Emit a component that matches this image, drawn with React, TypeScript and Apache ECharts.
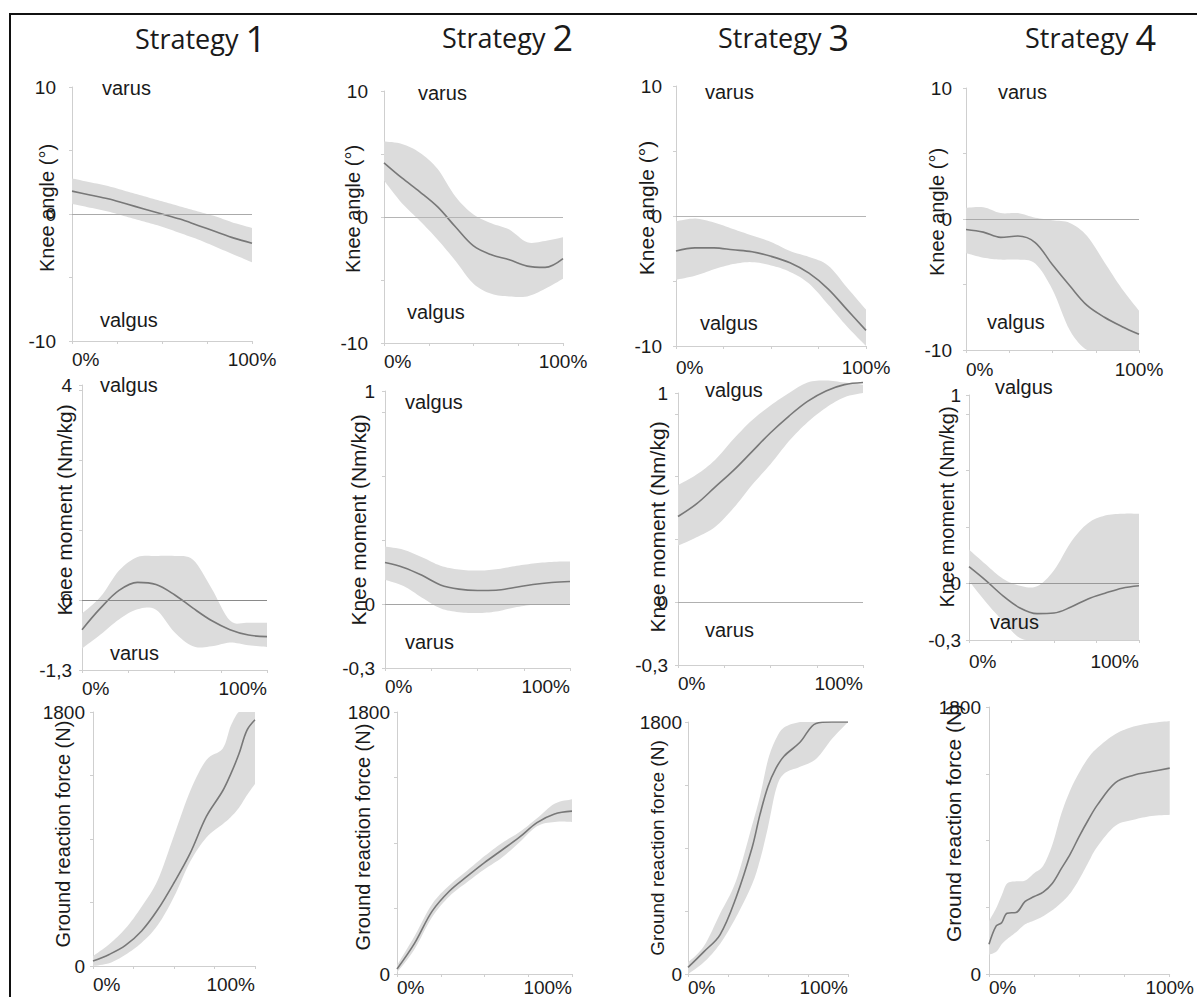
import React, { useEffect, useRef } from 'react';
import * as echarts from 'echarts';

// ---------- DATA ----------
const STRATEGIES = ['1', '2', '3', '4'];
const ANGLE_NAME = 'Knee angle (°)';
const MOMENT_NAME = 'Knee moment (Nm/kg)';
const GRF_NAME = 'Ground reaction force (N)';

const PCT = [0, 10, 20, 30, 40, 50, 60, 70, 80, 90, 100];

// Knee angle (deg)
const ANGLE_S1_MEAN = [1.8, 1.5, 1.2, 0.8, 0.4, 0.0, -0.4, -0.9, -1.4, -1.9, -2.3];
const ANGLE_S1_UPPER = [2.8, 2.5, 2.2, 1.8, 1.4, 1.0, 0.6, 0.2, -0.2, -0.7, -1.1];
const ANGLE_S1_LOWER = [0.8, 0.5, 0.2, -0.2, -0.6, -1.0, -1.5, -2.0, -2.6, -3.2, -3.8];

const ANGLE_S2_MEAN = [4.3, 3.1, 2.0, 0.8, -0.8, -2.3, -3.0, -3.4, -3.9, -4.0, -3.3];
const ANGLE_S2_UPPER = [6.0, 5.8, 5.1, 3.8, 1.6, 0.2, -0.5, -1.0, -2.0, -1.9, -1.6];
const ANGLE_S2_LOWER = [2.9, 1.1, -0.3, -1.8, -3.5, -5.3, -6.1, -6.3, -6.3, -5.7, -4.9];

const ANGLE_S3_MEAN = [-2.7, -2.45, -2.45, -2.6, -2.75, -3.1, -3.6, -4.4, -5.6, -7.2, -8.8];
const ANGLE_S3_UPPER = [-0.4, -0.2, -0.5, -1.0, -1.5, -2.0, -2.7, -3.15, -3.8, -5.5, -7.2];
const ANGLE_S3_LOWER = [-4.9, -4.6, -4.1, -3.7, -3.55, -3.8, -4.3, -5.2, -6.8, -8.5, -10];

const ANGLE_S4_MEAN = [-0.8, -1.0, -1.4, -1.3, -1.8, -3.5, -5.1, -6.6, -7.5, -8.2, -8.8];
const ANGLE_S4_UPPER = [0.85, 0.9, 0.45, 0.45, 0.1, -0.1, -0.3, -1.3, -3.3, -5.3, -7.0];
const ANGLE_S4_LOWER = [-2.6, -2.95, -3.1, -3.1, -3.4, -5.4, -8.5, -10, -10, -10, -10];

// Knee moment (Nm/kg)
const MOMENT_S1_MEAN = [-0.55, -0.15, 0.18, 0.33, 0.29, 0.1, -0.15, -0.38, -0.55, -0.65, -0.68];
const MOMENT_S1_UPPER = [-0.25, 0.06, 0.55, 0.8, 0.82, 0.82, 0.75, 0.22, -0.38, -0.42, -0.42];
const MOMENT_S1_LOWER = [-0.9, -0.64, -0.36, -0.17, -0.18, -0.6, -0.86, -0.86, -0.79, -0.84, -0.87];

const MOMENT_S2_MEAN = [0.195, 0.172, 0.135, 0.09, 0.07, 0.064, 0.065, 0.078, 0.092, 0.101, 0.106];
const MOMENT_S2_UPPER = [0.27, 0.255, 0.22, 0.18, 0.162, 0.157, 0.163, 0.178, 0.19, 0.198, 0.2];
const MOMENT_S2_LOWER = [0.114, 0.085, 0.03, -0.02, -0.038, -0.042, -0.035, -0.016, -0.003, 0, 0];

const MOMENT_S3_MEAN = [0.41, 0.47, 0.55, 0.63, 0.72, 0.81, 0.89, 0.96, 1.01, 1.04, 1.05];
const MOMENT_S3_UPPER = [0.56, 0.61, 0.68, 0.78, 0.87, 0.94, 1.0, 1.05, 1.06, 1.05, 1.04];
const MOMENT_S3_LOWER = [0.27, 0.31, 0.36, 0.45, 0.56, 0.66, 0.77, 0.86, 0.93, 0.98, 1.0];

const MOMENT_S4_MEAN = [0.089, 0.015, -0.066, -0.13, -0.16, -0.157, -0.125, -0.082, -0.052, -0.025, -0.012];
const MOMENT_S4_UPPER = [0.18, 0.1, 0.025, -0.012, -0.015, 0.07, 0.22, 0.32, 0.36, 0.37, 0.37];
const MOMENT_S4_LOWER = [0.014, -0.1, -0.2, -0.29, -0.3, -0.3, -0.3, -0.3, -0.3, -0.3, -0.3];

// Ground reaction force (N)
const GRF_S1_X = [0, 10, 20, 30, 40, 50, 60, 70, 80, 85, 90, 95, 100];
const GRF_S1_MEAN = [35, 82, 146, 248, 400, 590, 800, 1060, 1240, 1360, 1500, 1670, 1745];
const GRF_S1_UPPER = [70, 155, 265, 420, 610, 925, 1240, 1460, 1540, 1700, 1800, 1800, 1800];
const GRF_S1_LOWER = [0, 20, 80, 165, 290, 490, 740, 910, 1005, 1055, 1120, 1210, 1290];

const GRF_S2_MEAN = [34, 210, 430, 570, 670, 765, 852, 940, 1040, 1100, 1119];
const GRF_S2_UPPER = [60, 260, 480, 610, 710, 810, 900, 975, 1070, 1170, 1200];
const GRF_S2_LOWER = [10, 170, 390, 535, 630, 720, 800, 905, 1015, 1045, 1045];

const GRF_S3_X = [0, 10, 20, 30, 40, 45, 50, 55, 60, 70, 80, 90, 100];
const GRF_S3_MEAN = [47, 160, 280, 545, 900, 1140, 1340, 1470, 1555, 1655, 1790, 1800, 1800];
const GRF_S3_UPPER = [83, 200, 430, 665, 1060, 1270, 1530, 1680, 1760, 1800, 1800, 1800, 1800];
const GRF_S3_LOWER = [0, 85, 215, 405, 640, 815, 1050, 1320, 1430, 1480, 1536, 1680, 1800];

const GRF_S4_X = [0, 4, 7, 10, 15, 20, 25, 30, 35, 40, 45, 50, 55, 60, 70, 80, 90, 100];
const GRF_S4_MEAN = [200, 324, 345, 410, 415, 489, 522, 552, 610, 710, 810, 930, 1040, 1140, 1290, 1340, 1365, 1388];
const GRF_S4_UPPER = [357, 445, 530, 610, 625, 630, 680, 730, 870, 1080, 1240, 1360, 1458, 1525, 1618, 1668, 1692, 1705];
const GRF_S4_LOWER = [130, 150, 200, 235, 282, 335, 360, 390, 430, 480, 545, 640, 753, 860, 1000, 1040, 1065, 1073];

// ---------- STYLE / LAYOUT ----------
const FONT = '"Liberation Sans", Arial, sans-serif';
const TITLE_FONT = '"Open Sans", "Liberation Sans", sans-serif';
const TEXT = '#1a1a1a';
const AXIS = '#cfcfcf';
const BAND = '#dcdcdc';
const LINE = '#787878';

type Panel = {
  grid: { left: number; top: number; width: number; height: number };
  x: number[];
  mean: number[];
  upper: number[];
  lower: number[];
  yMin: number;
  yMax: number;
  yStep: number;
  yLabels: number[];
  zero?: string;
  clip?: boolean;
  maxAlign: 'center' | 'right';
  yMargin: number;
  xMargin: number;
};

const ANGLE_AXIS = { yMin: -10, yMax: 10, yStep: 5, yLabels: [-10, 0, 10] };
const M1_AXIS = { yMin: -1.3, yMax: 4, yStep: 1.3, yLabels: [-1.3, 0, 4] };
const M_AXIS = { yMin: -0.3, yMax: 1, yStep: 0.3, yLabels: [-0.3, 0, 1] };
const GRF_AXIS = { yMin: 0, yMax: 1800, yStep: 450, yLabels: [0, 1800] };

const PANELS: Panel[] = [
  { grid: { left: 72, top: 87, width: 180, height: 254 }, x: PCT, mean: ANGLE_S1_MEAN, upper: ANGLE_S1_UPPER, lower: ANGLE_S1_LOWER, ...ANGLE_AXIS, zero: '#aaaaaa', maxAlign: 'center', yMargin: 16, xMargin: 9 },
  { grid: { left: 384, top: 91, width: 179, height: 252 }, x: PCT, mean: ANGLE_S2_MEAN, upper: ANGLE_S2_UPPER, lower: ANGLE_S2_LOWER, ...ANGLE_AXIS, zero: '#b5b5b5', maxAlign: 'center', yMargin: 16, xMargin: 9 },
  { grid: { left: 676, top: 86, width: 190, height: 260 }, x: PCT, mean: ANGLE_S3_MEAN, upper: ANGLE_S3_UPPER, lower: ANGLE_S3_LOWER, ...ANGLE_AXIS, zero: '#b5b5b5', maxAlign: 'center', yMargin: 14, xMargin: 12 },
  { grid: { left: 966, top: 88, width: 173, height: 262 }, x: PCT, mean: ANGLE_S4_MEAN, upper: ANGLE_S4_UPPER, lower: ANGLE_S4_LOWER, ...ANGLE_AXIS, zero: '#aaaaaa', maxAlign: 'center', yMargin: 14, xMargin: 10 },

  { grid: { left: 82, top: 385, width: 185, height: 285 }, x: PCT, mean: MOMENT_S1_MEAN, upper: MOMENT_S1_UPPER, lower: MOMENT_S1_LOWER, ...M1_AXIS, zero: '#8a8a8a', maxAlign: 'right', yMargin: 10, xMargin: 9 },
  { grid: { left: 385, top: 391, width: 185, height: 277 }, x: PCT, mean: MOMENT_S2_MEAN, upper: MOMENT_S2_UPPER, lower: MOMENT_S2_LOWER, ...M_AXIS, zero: '#a5a5a5', maxAlign: 'right', yMargin: 10, xMargin: 9 },
  { grid: { left: 678, top: 393, width: 185, height: 272 }, x: PCT, mean: MOMENT_S3_MEAN, upper: MOMENT_S3_UPPER, lower: MOMENT_S3_LOWER, ...M_AXIS, zero: '#b0b0b0', clip: false, maxAlign: 'right', yMargin: 10, xMargin: 9 },
  { grid: { left: 969, top: 395, width: 170, height: 245 }, x: PCT, mean: MOMENT_S4_MEAN, upper: MOMENT_S4_UPPER, lower: MOMENT_S4_LOWER, ...M_AXIS, zero: '#999999', maxAlign: 'right', yMargin: 8, xMargin: 12 },

  { grid: { left: 93, top: 712, width: 162, height: 254 }, x: GRF_S1_X, mean: GRF_S1_MEAN, upper: GRF_S1_UPPER, lower: GRF_S1_LOWER, ...GRF_AXIS, maxAlign: 'right', yMargin: 8, xMargin: 9 },
  { grid: { left: 397, top: 712, width: 175, height: 263 }, x: PCT, mean: GRF_S2_MEAN, upper: GRF_S2_UPPER, lower: GRF_S2_LOWER, ...GRF_AXIS, maxAlign: 'right', yMargin: 7, xMargin: 4 },
  { grid: { left: 688, top: 722, width: 160, height: 256 }, x: GRF_S3_X, mean: GRF_S3_MEAN, upper: GRF_S3_UPPER, lower: GRF_S3_LOWER, ...GRF_AXIS, maxAlign: 'right', yMargin: 6, xMargin: 4 },
  { grid: { left: 989, top: 707, width: 189, height: 270 }, x: GRF_S4_X, mean: GRF_S4_MEAN, upper: GRF_S4_UPPER, lower: GRF_S4_LOWER, ...GRF_AXIS, maxAlign: 'center', yMargin: 8, xMargin: 4 },
];

// titles: [left x, centre y]
const TITLE_POS = [[135, 38], [442, 37], [718, 37], [1025, 37]];

// y axis names: [centre x, centre y, text, size]
const Y_NAMES: [number, number, string, number][] = [
  [47, 208, ANGLE_NAME, 20], [353, 209, ANGLE_NAME, 20], [646, 208, ANGLE_NAME, 21], [937, 212, ANGLE_NAME, 20],
  [64, 510, MOMENT_NAME, 21], [358, 520, MOMENT_NAME, 21], [657, 527, MOMENT_NAME, 21], [947, 507, MOMENT_NAME, 20],
  [63, 834, GRF_NAME, 20], [363, 837, GRF_NAME, 20], [657, 848, GRF_NAME, 19], [953, 823, GRF_NAME, 21],
];

// region annotations: [left x, centre y, text]
const NOTES: [number, number, string][] = [
  [102, 88, 'varus'], [100, 320, 'valgus'],
  [418, 93, 'varus'], [407, 312, 'valgus'],
  [705, 92, 'varus'], [700, 323, 'valgus'],
  [998, 92, 'varus'], [987, 322, 'valgus'],
  [100, 385, 'valgus'], [110, 653, 'varus'],
  [405, 402, 'valgus'], [405, 642, 'varus'],
  [705, 390, 'valgus'], [705, 630, 'varus'],
  [995, 387, 'valgus'], [990, 622, 'varus'],
];

const fmtNum = (v: number) => String(v).replace('.', ',');

// Catmull-Rom smoothing of already-projected pixel points (rendering only)
function smoothPixels(pts: number[][], seg = 8): number[][] {
  const out: number[][] = [];
  const n = pts.length;
  for (let i = 0; i < n - 1; i++) {
    const p0 = pts[Math.max(0, i - 1)];
    const p1 = pts[i];
    const p2 = pts[i + 1];
    const p3 = pts[Math.min(n - 1, i + 2)];
    for (let s = 0; s < seg; s++) {
      const t = s / seg;
      const t2 = t * t;
      const t3 = t2 * t;
      const f = (a: number, b: number, c: number, d: number) =>
        0.5 * (2 * b + (-a + c) * t + (2 * a - 5 * b + 4 * c - d) * t2 + (-a + 3 * b - 3 * c + d) * t3);
      out.push([f(p0[0], p1[0], p2[0], p3[0]), f(p0[1], p1[1], p2[1], p3[1])]);
    }
  }
  out.push(pts[n - 1]);
  return out;
}

function buildOption() {
  const grid: any[] = [];
  const xAxis: any[] = [];
  const yAxis: any[] = [];
  const series: any[] = [];

  PANELS.forEach((p, i) => {
    grid.push({ ...p.grid, containLabel: false });
    xAxis.push({
      type: 'value', gridIndex: i, min: 0, max: 100, interval: 25,
      axisLine: { show: true, onZero: false, lineStyle: { color: AXIS, width: 1 } },
      axisTick: { show: true, length: 3, lineStyle: { color: AXIS } },
      splitLine: { show: false },
      axisLabel: {
        formatter: (v: number) => (v === 0 ? '0%' : v === 100 ? '100%' : ''),
        showMinLabel: true, showMaxLabel: true,
        alignMinLabel: 'left', alignMaxLabel: p.maxAlign,
        fontSize: 19, color: TEXT, fontFamily: FONT, margin: p.xMargin,
      },
    });
    yAxis.push({
      type: 'value', gridIndex: i, min: p.yMin, max: p.yMax, interval: p.yStep,
      axisLine: { show: true, lineStyle: { color: AXIS, width: 1 } },
      axisTick: { show: true, length: 3, lineStyle: { color: AXIS } },
      splitLine: { show: false },
      axisLabel: {
        formatter: (v: number) => {
          const r = Math.round(v * 1000) / 1000;
          return p.yLabels.some((l) => Math.abs(l - r) < 1e-6) ? fmtNum(r) : '';
        },
        showMinLabel: true, showMaxLabel: true,
        fontSize: 19, color: TEXT, fontFamily: FONT, margin: p.yMargin,
      },
    });
    const clip = p.clip !== false;
    const upperPts = p.x.map((x, k) => [x, p.upper[k]]);
    const lowerPts = p.x.map((x, k) => [x, p.lower[k]]);
    series.push({
      type: 'custom', xAxisIndex: i, yAxisIndex: i, clip, silent: true, z: 1,
      data: [[0, 0]],
      renderItem: (_params: any, api: any) => {
        const top = smoothPixels(upperPts.map((pt) => api.coord(pt)));
        const bot = smoothPixels(lowerPts.map((pt) => api.coord(pt))).reverse();
        return {
          type: 'polygon',
          shape: { points: top.concat(bot) },
          style: { fill: BAND, stroke: null },
        };
      },
    });
    series.push({
      type: 'line', xAxisIndex: i, yAxisIndex: i,
      data: p.x.map((x, k) => [x, p.mean[k]]),
      smooth: 0.35, symbol: 'none', lineStyle: { color: LINE, width: 1.6 }, silent: true, clip, z: 3,
      markLine: p.zero
        ? { silent: true, symbol: 'none', label: { show: false }, lineStyle: { color: p.zero, width: 1.2, type: 'solid' }, data: [{ yAxis: 0 }] }
        : undefined,
    });
  });

  const graphic: any[] = [];
  // frame
  graphic.push({ type: 'line', shape: { x1: 9, y1: 14, x2: 1197, y2: 14 }, style: { stroke: '#111', lineWidth: 2 } });
  graphic.push({ type: 'line', shape: { x1: 10, y1: 13, x2: 10, y2: 997 }, style: { stroke: '#111', lineWidth: 2 } });

  STRATEGIES.forEach((s, i) => {
    graphic.push({
      type: 'text', x: TITLE_POS[i][0], y: TITLE_POS[i][1],
      style: {
        text: '{a|Strategy }{b|' + s + '}', align: 'left', verticalAlign: 'middle',
        rich: {
          a: { fontSize: 27, fontFamily: TITLE_FONT, fill: TEXT },
          b: { fontSize: 36, fontFamily: TITLE_FONT, fill: TEXT },
        },
      },
    });
  });

  Y_NAMES.forEach(([x, y, t, size]) => {
    graphic.push({
      type: 'text', x, y, rotation: Math.PI / 2, z: 10,
      style: { text: t, fontSize: size, fontFamily: FONT, fill: TEXT, align: 'center', verticalAlign: 'middle' },
    });
  });

  NOTES.forEach(([x, y, t]) => {
    graphic.push({
      type: 'text', x, y, z: 10,
      style: { text: t, fontSize: 20, fontFamily: FONT, fill: TEXT, align: 'left', verticalAlign: 'middle' },
    });
  });

  return {
    animation: false,
    backgroundColor: '#ffffff',
    grid, xAxis, yAxis, series, graphic,
  };
}

export default function App() {
  const ref = useRef<HTMLDivElement>(null);
  useEffect(() => {
    if (!ref.current) return;
    const chart = echarts.init(ref.current, undefined, { renderer: 'svg' });
    chart.setOption(buildOption() as any);
    return () => chart.dispose();
  }, []);
  return (
    <div
      ref={ref}
      style={{ position: 'absolute', left: 0, top: 0, width: 1197, height: 997, background: '#fff' }}
    />
  );
}
